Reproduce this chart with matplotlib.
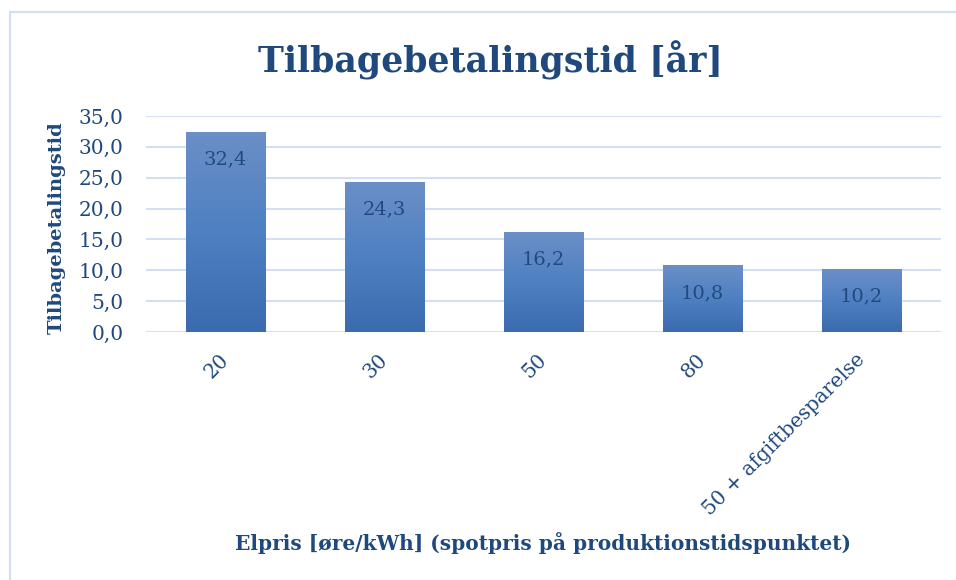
import numpy as np
import matplotlib.pyplot as plt
from matplotlib.lines import Line2D
from matplotlib.colors import LinearSegmentedColormap

# data
kategorier = ['20', '30', '50', '80', '50 + afgiftbesparelse']
aar = [32.4, 24.3, 16.2, 10.8, 10.2]
y_ticks = [0, 5, 10, 15, 20, 25, 30, 35]

tekst_farve = '#1F497D'
grid_farve = '#D3DFF2'
plt.rcParams['font.family'] = ['DejaVu Serif']

fig = plt.figure(figsize=(9.56, 5.8), dpi=100)
ax = fig.add_axes([0.1527, 0.4276, 0.8316, 0.3724])

# ramme om diagrammet (kun venstre og top ses)
fx, fy = 10 / 956, 1 - 12 / 580
fig.lines.append(Line2D([fx, fx], [0, fy], transform=fig.transFigure,
                        color=grid_farve, linewidth=1.5))
fig.lines.append(Line2D([fx, 0.999], [fy, fy], transform=fig.transFigure,
                        color=grid_farve, linewidth=1.5))

x = np.arange(len(kategorier))
bars = ax.bar(x, aar, width=0.5, color='#4F81BD', zorder=2)

# gradient i soejlerne
gradient = LinearSegmentedColormap.from_list('blaa', ['#3A6BAE', '#4E80C2', '#6B8FC7'])
g = np.linspace(0, 1, 256).reshape(-1, 1)
for b in bars:
    x0, y0 = b.get_x(), b.get_y()
    w, h = b.get_width(), b.get_height()
    b.set_facecolor('none')
    im = ax.imshow(g, cmap=gradient, origin='lower', aspect='auto',
                   extent=(x0, x0 + w, y0, y0 + h), zorder=2)
    im.set_clip_path(b)

for xi, v in zip(x, aar):
    ax.annotate(f'{v:.1f}'.replace('.', ','), xy=(xi, v), xytext=(0, -20),
                textcoords='offset points', ha='center', va='center',
                fontsize=14, color='#234A80', zorder=3)

ax.set_xlim(-0.5, len(kategorier) - 0.5)
ax.set_ylim(0, 35)
ax.set_yticks(y_ticks)
ax.set_yticklabels([f'{t:.1f}'.replace('.', ',') for t in y_ticks])
ax.set_xticks(x)
ax.set_xticklabels(kategorier, rotation=45, ha='right', va='center',
                   rotation_mode='anchor')
ax.tick_params(axis='both', length=0, labelsize=14.5, labelcolor=tekst_farve)
ax.tick_params(axis='x', pad=18)
ax.tick_params(axis='y', pad=16)
ax.yaxis.grid(True, color=grid_farve, linewidth=1.5, zorder=0)
ax.set_axisbelow(True)
for s in ax.spines.values():
    s.set_visible(False)

fig.text(490 / 956, 1 - 60 / 580, 'Tilbagebetalingstid [år]', ha='center', va='center',
         fontsize=25, fontweight='bold', color=tekst_farve)
fig.text(57 / 956, 1 - 228 / 580, 'Tilbagebetalingstid', rotation=90, ha='center',
         va='center', fontsize=14, fontweight='bold', color=tekst_farve)
fig.text(543 / 956, 1 - 543 / 580,
         'Elpris [øre/kWh] (spotpris på produktionstidspunktet)', ha='center',
         va='center', fontsize=14.5, fontweight='bold', color=tekst_farve)

plt.savefig('out.png', dpi=100)
